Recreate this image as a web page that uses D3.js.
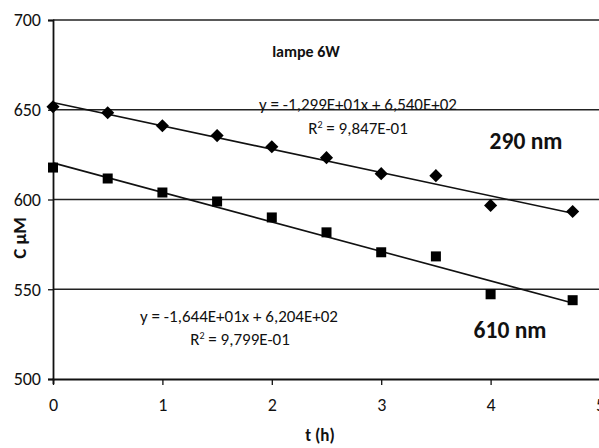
<!DOCTYPE html>
<html>
<head>
<meta charset="utf-8">
<script src="https://cdn.jsdelivr.net/npm/d3@7"></script>
<style>
  body { margin: 0; background: #fff; }
  svg text { font-family: Carlito, "DejaVu Sans Condensed", "Open Sans", Arial, sans-serif; fill: #111; }
</style>
</head>
<body>
<div id="chart"></div>
<script>
// temps (h)
const times = [0, 0.5, 1, 1.5, 2, 2.5, 3, 3.5, 4, 4.75];
// concentration (µM) à 290 nm et 610 nm
const c290 = [651.7, 648.3, 641.1, 635.6, 629.4, 623.3, 614.4, 613.3, 596.7, 593.3];
const c610 = [617.8, 611.7, 603.9, 598.9, 590.0, 581.7, 570.6, 568.3, 547.2, 543.9];
// droites de régression (pente, ordonnée)
const fit290 = [-12.99, 654.0];
const fit610 = [-16.44, 620.4];
const xTicks = [0, 1, 2, 3, 4, 5];
const yTicks = [500, 550, 600, 650, 700];

const width = 599, height = 448;
const margin = {top: 20, right: -1, bottom: 69, left: 53};
const plotW = width - margin.left - margin.right;
const plotH = height - margin.top - margin.bottom;

const x = d3.scaleLinear().domain([0, 5]).range([0, plotW]);
const y = d3.scaleLinear().domain([500, 700]).range([plotH, 0]);

const svg = d3.select("#chart").append("svg")
    .attr("width", width).attr("height", height);
const g = svg.append("g").attr("transform", `translate(${margin.left},${margin.top})`);

// grille horizontale
g.append("g")
    .selectAll("line")
    .data(yTicks.filter(d => d > 500))
    .join("line")
    .attr("x1", 0).attr("x2", plotW)
    .attr("y1", d => y(d)).attr("y2", d => y(d))
    .attr("stroke", "#222").attr("stroke-width", 1.3);

// axes
const yAxis = g.append("g")
    .call(d3.axisLeft(y).tickValues(yTicks).tickSize(5).tickFormat(d3.format("d")));
const xAxis = g.append("g")
    .attr("transform", `translate(0,${plotH})`)
    .call(d3.axisBottom(x).tickValues(xTicks).tickSize(5).tickFormat(d3.format("d")));

[xAxis, yAxis].forEach(ax => {
    ax.select(".domain").attr("stroke", "#111").attr("stroke-width", 1.8);
    ax.selectAll(".tick line").attr("stroke", "#111").attr("stroke-width", 1.3);
    ax.selectAll(".tick text").style("font-size", "18px").attr("fill", "#111");
});
yAxis.selectAll(".tick text").attr("x", -12);
xAxis.selectAll(".tick text").attr("y", 19);
xAxis.selectAll(".tick line").attr("y2", 6);

// droites de tendance
const fitLine = (p) => [0, 4.75].map(t => [x(t), y(p[0] * t + p[1])]);
[fit290, fit610].forEach(p => {
    g.append("path")
        .attr("d", d3.line()(fitLine(p)))
        .attr("fill", "none").attr("stroke", "#111").attr("stroke-width", 1.6);
});

// points
const diamond = d3.symbol().type(d3.symbolDiamond2).size(110);
g.append("g").selectAll("path")
    .data(times.map((t, i) => [t, c290[i]]))
    .join("path")
    .attr("d", diamond)
    .attr("transform", d => `translate(${x(d[0])},${y(d[1])})`)
    .attr("fill", "#000");

g.append("g").selectAll("rect")
    .data(times.map((t, i) => [t, c610[i]]))
    .join("rect")
    .attr("x", d => x(d[0]) - 5).attr("y", d => y(d[1]) - 5)
    .attr("width", 10).attr("height", 10)
    .attr("fill", "#000");

// textes
function label(txt, px, py, size, weight, anchor) {
    return svg.append("text")
        .attr("x", px).attr("y", py)
        .attr("text-anchor", anchor || "middle")
        .style("font-size", size + "px")
        .style("font-weight", weight || "normal")
        .text(txt);
}
label("lampe 6W", 306, 57, 16, "bold");
label("y = -1,299E+01x + 6,540E+02", 358, 110, 17);
const r1 = label("R", 358, 134, 17);
r1.append("tspan").attr("baseline-shift", "super").style("font-size", "10px").text("2");
r1.append("tspan").text(" = 9,847E-01");
label("290 nm", 526, 149, 23.5, "bold");

label("y = -1,644E+01x + 6,204E+02", 239, 322, 17);
const r2 = label("R", 240, 345, 17);
r2.append("tspan").attr("baseline-shift", "super").style("font-size", "10px").text("2");
r2.append("tspan").text(" = 9,799E-01");
label("610 nm", 510, 338, 23.5, "bold");

label("t (h)", 320, 441, 17, "bold");
svg.append("text")
    .attr("transform", "translate(26,238) rotate(-90)")
    .attr("text-anchor", "middle")
    .style("font-size", "19px").style("font-weight", "bold")
    .text("C µM");
</script>
</body>
</html>
